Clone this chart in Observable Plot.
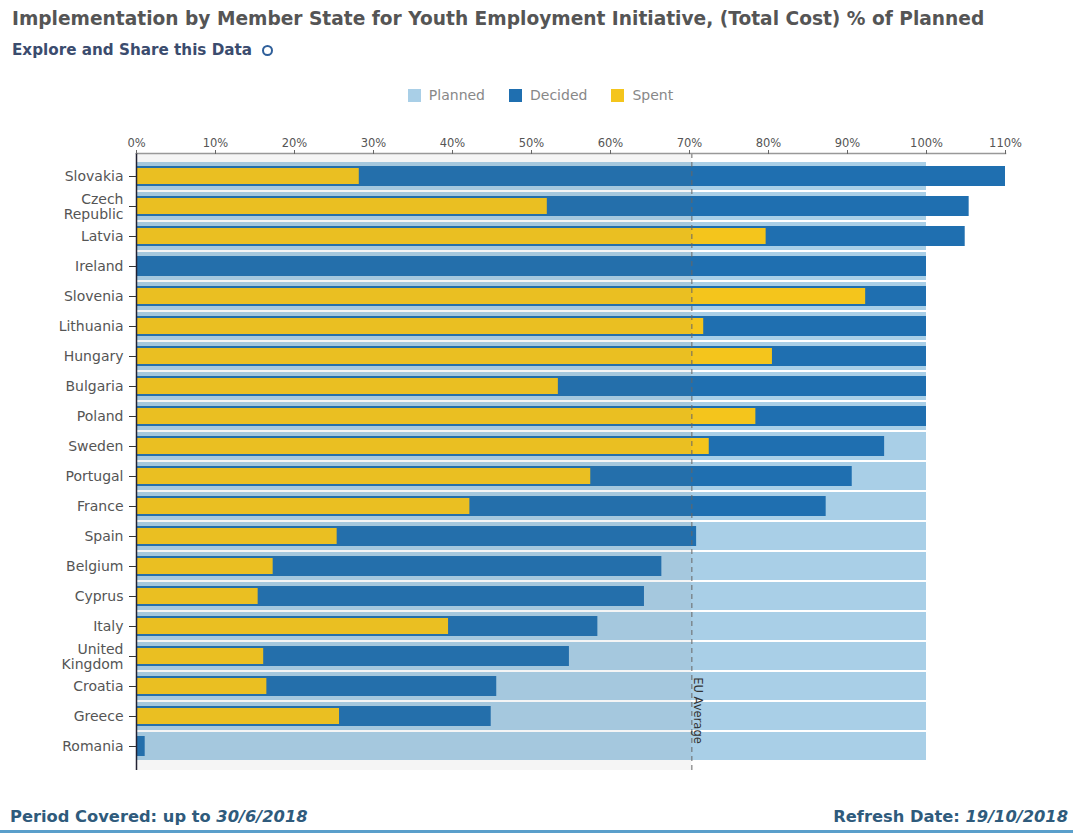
<!DOCTYPE html>
<html>
<head>
<meta charset="utf-8">
<script src="https://cdn.jsdelivr.net/npm/d3@7"></script>
<script src="https://cdn.jsdelivr.net/npm/@observablehq/plot@0.6"></script>
<style>
  body { margin: 0; background: #fff; font-family: "DejaVu Sans", Verdana, sans-serif; }
  #wrap { position: relative; width: 1073px; height: 835px; overflow: hidden; }
  #title { position: absolute; left: 12px; top: 8px; font-size: 18.6px; font-weight: bold; color: #555; white-space: nowrap; }
  #explore { position: absolute; left: 12px; top: 41px; font-size: 15.2px; font-weight: bold; color: #3b4c6e; white-space: nowrap; display: flex; align-items: center; }
  #explore .ico { display: inline-block; width: 7px; height: 7px; border: 2px solid #2f5f9a; border-radius: 50%; margin-left: 10px; }
  #legend { position: absolute; left: 0; width: 1073px; top: 87px; display: flex; justify-content: center; font-size: 14px; color: #888; padding-left: 8px; box-sizing: border-box; }
  #legend .item { display: flex; align-items: center; margin: 0 12px; }
  #legend .sw { width: 13px; height: 13px; margin-right: 8px; }
  #chart { position: absolute; left: 0; top: 110px; }
  #footer-l { position: absolute; left: 10px; top: 807px; font-size: 16.3px; font-weight: bold; color: #2f5b7c; white-space: nowrap; }
  #footer-r { position: absolute; right: 5px; top: 807px; font-size: 16.3px; font-weight: bold; color: #2f5b7c; white-space: nowrap; }
  #bar { position: absolute; left: 0; top: 830px; width: 1073px; height: 3px; background: #5a9fcb; }
  #chart svg { font-family: "DejaVu Sans", Verdana, sans-serif; }
</style>
</head>
<body>
<div id="wrap">
  <div id="title">Implementation by Member State for Youth Employment Initiative, (Total Cost) % of Planned</div>
  <div id="explore">Explore and Share this Data<span class="ico"></span></div>
  <div id="legend"></div>
  <div id="chart"></div>
  <div id="footer-l">Period Covered: up to <i>30/6/2018</i></div>
  <div id="footer-r">Refresh Date: <i>19/10/2018</i></div>
  <div id="bar"></div>
</div>
<script>
const countries = ["Slovakia", "Czech Republic", "Latvia", "Ireland", "Slovenia", "Lithuania", "Hungary", "Bulgaria", "Poland", "Sweden", "Portugal", "France", "Spain", "Belgium", "Cyprus", "Italy", "United Kingdom", "Croatia", "Greece", "Romania"];
const planned = [100, 100, 100, 100, 100, 100, 100, 100, 100, 100, 100, 100, 100, 100, 100, 100, 100, 100, 100, 100];
const decided = [110.0, 105.4, 104.9, 100, 100, 100, 100, 100, 100, 94.7, 90.6, 87.3, 70.9, 66.5, 64.3, 58.4, 54.8, 45.6, 44.9, 1.1];
const spent = [28.2, 52.0, 79.7, 0, 92.3, 71.8, 80.5, 53.4, 78.4, 72.5, 57.5, 42.2, 25.4, 17.3, 15.4, 39.5, 16.1, 16.5, 25.7, 0];
const euAverage = 70.3;
const xTicks = [0, 10, 20, 30, 40, 50, 60, 70, 80, 90, 100, 110];
const seriesNames = ["Planned", "Decided", "Spent"];
const seriesColors = ["#a9cfe7", "#1f6fb0", "#f4c51c"];

const data = countries.map((c, i) => ({country: c, planned: planned[i], decided: decided[i], spent: spent[i]}));

const legend = document.getElementById("legend");
seriesNames.forEach((n, i) => {
  const it = document.createElement("div");
  it.className = "item";
  it.innerHTML = `<span class="sw" style="background:${seriesColors[i]}"></span><span>${n}</span>`;
  legend.appendChild(it);
});

const chart = Plot.plot({
  width: 1073,
  height: 670,
  marginTop: 43,
  marginBottom: 10,
  marginLeft: 136,
  marginRight: 68,
  style: {fontFamily: "DejaVu Sans, Verdana, sans-serif", color: "#555", background: "transparent"},
  x: {domain: [0, 110], label: null},
  y: {domain: countries, range: [47, 655], padding: 0, label: null},
  marks: [
    Plot.barX(data, {x: "planned", y: "country", fill: seriesColors[0], insetTop: 1, insetBottom: 1}),
    Plot.barX(data, {x: "decided", y: "country", fill: seriesColors[1], insetTop: 5, insetBottom: 5}),
    Plot.barX(data, {x: "spent", y: "country", fill: seriesColors[2], insetTop: 7, insetBottom: 7}),
    Plot.rect([euAverage], {x1: () => 0, x2: d => d, fill: "#777", fillOpacity: 0.07}),
    Plot.ruleX([euAverage], {stroke: "#666", strokeDasharray: "5,4", strokeWidth: 1}),
    Plot.text([euAverage], {x: d => d, y: () => "Greece", text: () => "EU Average", rotate: 90, dx: 6, dy: -6, fontSize: 11.5, fill: "#333"}),
    Plot.frame({anchor: "top", stroke: "#999", strokeWidth: 1.5}),
    Plot.ruleX([0], {stroke: "#223", strokeWidth: 1.5}),
    Plot.axisX({anchor: "top", ticks: xTicks, tickFormat: d => d + "%", tickSize: 4, tickPadding: 3, fontSize: 11.5, label: null, stroke: "#666"}),
    Plot.axisY({anchor: "left", tickFormat: d => d.replace(" ", "\n"), tickSize: 7, tickPadding: 6, fontSize: 14, lineHeight: 1.1, label: null, fill: "#555", stroke: "#333"})
  ]
});
document.getElementById("chart").appendChild(chart);
</script>
</body>
</html>
